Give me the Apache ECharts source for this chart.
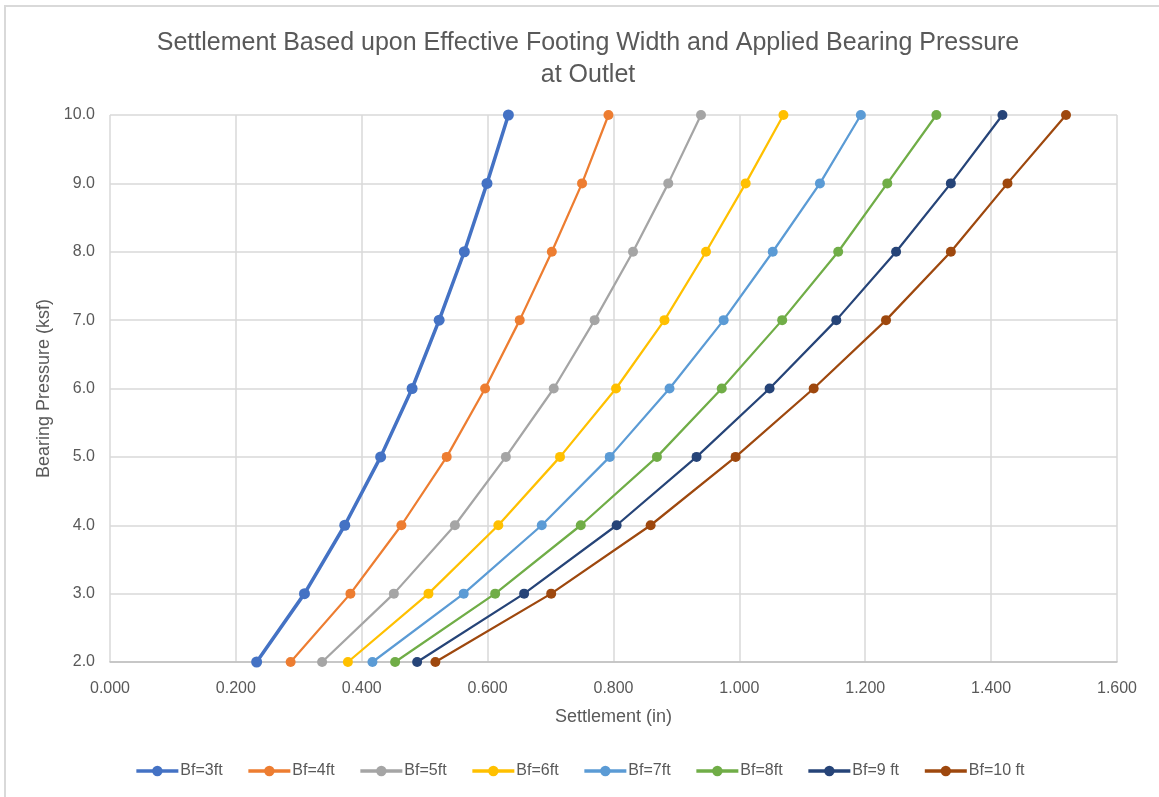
<!DOCTYPE html>
<html>
<head>
<meta charset="utf-8">
<title>Settlement vs Bearing Pressure</title>
<script src="https://cdn.jsdelivr.net/npm/echarts@6/dist/echarts.min.js"></script>
<style>
  html, body { margin: 0; padding: 0; background: #ffffff; }
  #chart { width: 1159px; height: 797px; }
</style>
</head>
<body>
<div id="chart"></div>
<script>
// Applied bearing pressure (ksf), shared by every footing width
const pressure = [2, 3, 4, 5, 6, 7, 8, 9, 10];

// Settlement (in) for each effective footing width
const bf3  = [0.233, 0.309, 0.373, 0.430, 0.480, 0.523, 0.563, 0.599, 0.633];
const bf4  = [0.287, 0.382, 0.463, 0.535, 0.596, 0.651, 0.702, 0.750, 0.792];
const bf5  = [0.337, 0.451, 0.548, 0.629, 0.705, 0.770, 0.831, 0.887, 0.939];
const bf6  = [0.378, 0.506, 0.617, 0.715, 0.804, 0.881, 0.947, 1.010, 1.070];
const bf7  = [0.417, 0.562, 0.686, 0.794, 0.889, 0.975, 1.053, 1.128, 1.193];
const bf8  = [0.453, 0.612, 0.748, 0.869, 0.972, 1.068, 1.157, 1.235, 1.313];
const bf9  = [0.488, 0.658, 0.805, 0.932, 1.048, 1.154, 1.249, 1.336, 1.418];
const bf10 = [0.517, 0.701, 0.859, 0.994, 1.118, 1.233, 1.336, 1.426, 1.519];

const seriesNames = ['Bf=3ft', 'Bf=4ft', 'Bf=5ft', 'Bf=6ft', 'Bf=7ft', 'Bf=8ft', 'Bf=9 ft', 'Bf=10 ft'];
const seriesValues = [bf3, bf4, bf5, bf6, bf7, bf8, bf9, bf10];
const seriesColors = ['#4472C4', '#ED7D31', '#A5A5A5', '#FFC000', '#5B9BD5', '#70AD47', '#264478', '#9E480E'];

const FONT = '"Liberation Sans", Arial, sans-serif';
const TEXT = '#595959';
const GRID_LINE = '#d9d9d9';

const series = seriesNames.map((name, i) => ({
  name: name,
  type: 'line',
  data: seriesValues[i].map((s, k) => [s, pressure[k]]),
  symbol: 'circle',
  symbolSize: i === 0 ? 11 : 10,
  showSymbol: true,
  lineStyle: { width: i === 0 ? 3.5 : 2.25, color: seriesColors[i] },
  itemStyle: { color: seriesColors[i] },
  emphasis: { disabled: true },
  z: 10 + (seriesNames.length - i)
}));

const chart = echarts.init(document.getElementById('chart'), null, { renderer: 'canvas' });
chart.setOption({
  animation: false,
  backgroundColor: '#ffffff',
  textStyle: { fontFamily: FONT },
  title: {
    text: 'Settlement Based upon Effective Footing Width and Applied Bearing Pressure\nat Outlet',
    left: 583,
    top: 22,
    textAlign: 'center',
    textStyle: { fontFamily: FONT, fontSize: 25, fontWeight: 'normal', color: TEXT, lineHeight: 32 }
  },
  grid: { left: 110, right: 42, top: 115, bottom: 135 },
  xAxis: {
    type: 'value',
    min: 0, max: 1.6, interval: 0.2,
    name: 'Settlement (in)',
    nameLocation: 'middle',
    nameGap: 46,
    nameTextStyle: { fontFamily: FONT, fontSize: 18, color: TEXT },
    axisLine: { show: true, lineStyle: { color: '#bfbfbf', width: 1.5 } },
    axisTick: { show: false },
    axisLabel: { margin: 19, fontFamily: FONT, fontSize: 16, color: TEXT, formatter: v => v.toFixed(3) },
    splitLine: { show: true, lineStyle: { color: GRID_LINE, width: 1.5 } }
  },
  yAxis: {
    type: 'value',
    min: 2, max: 10, interval: 1,
    name: 'Bearing Pressure (ksf)',
    nameLocation: 'middle',
    nameGap: 57,
    nameRotate: 90,
    nameTextStyle: { fontFamily: FONT, fontSize: 18, color: TEXT },
    axisLine: { show: false },
    axisTick: { show: false },
    axisLabel: { margin: 15, fontFamily: FONT, fontSize: 16, color: TEXT, formatter: v => v.toFixed(1) },
    splitLine: { show: true, lineStyle: { color: GRID_LINE, width: 1.5 } }
  },
  legend: {
    data: seriesNames,
    bottom: 13,
    left: 'center',
    itemWidth: 42,
    itemHeight: 13,
    itemGap: 24,
    lineStyle: { width: 3.5 },
    textStyle: { fontFamily: FONT, fontSize: 16, color: TEXT, padding: [0, 0, 0, -3] }
  },
  graphic: [
    { type: 'rect', shape: { x: 4, y: 5, width: 1160, height: 2 }, style: { fill: '#d9d9d9' }, silent: true },
    { type: 'rect', shape: { x: 4, y: 5, width: 2, height: 800 }, style: { fill: '#d9d9d9' }, silent: true }
  ],
  series: series
});
</script>
</body>
</html>
